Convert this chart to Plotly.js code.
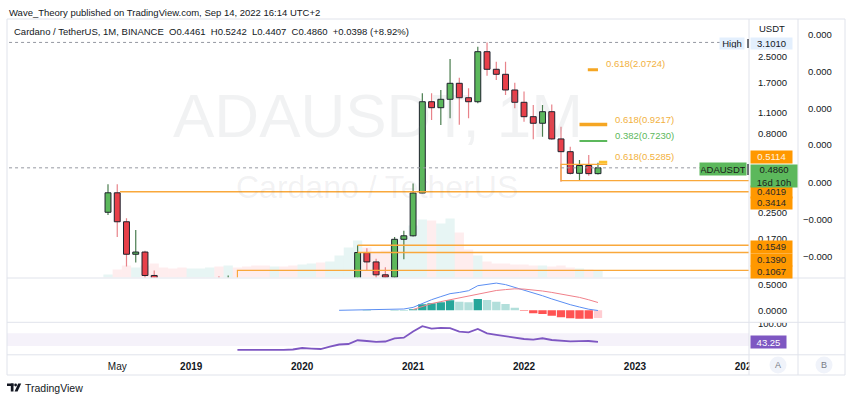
<!DOCTYPE html>
<html>
<head>
<meta charset="utf-8">
<script src="https://cdn.plot.ly/plotly-3.0.1.min.js"></script>
<style>html,body{margin:0;padding:0;background:#fff;}#chart{width:850px;height:399px;}</style>
</head>
<body>
<div id="chart"></div>
<script>
// ---------------- DATA (monthly ADAUSDT, Apr 2018 .. Sep 2022) ----------------
const monthLabels = ['2018-04','2018-05','2018-06','2018-07','2018-08','2018-09','2018-10','2018-11','2018-12',
  '2019-01','2019-02','2019-03','2019-04','2019-05','2019-06','2019-07','2019-08','2019-09','2019-10','2019-11','2019-12',
  '2020-01','2020-02','2020-03','2020-04','2020-05','2020-06','2020-07','2020-08','2020-09','2020-10','2020-11','2020-12',
  '2021-01','2021-02','2021-03','2021-04','2021-05','2021-06','2021-07','2021-08','2021-09','2021-10','2021-11','2021-12',
  '2022-01','2022-02','2022-03','2022-04','2022-05','2022-06','2022-07','2022-08','2022-09'];
const open  = [0.252,0.336,0.219,0.1355,0.140,0.099,0.078,0.072,0.042,0.040,0.041,0.043,0.067,0.062,0.088,0.082,0.058,0.046,0.040,0.042,0.037,0.033,0.055,0.057,0.032,0.050,0.076,0.091,0.1387,0.121,0.100,0.0965,0.169,0.178,0.335,1.291,1.182,1.338,1.695,1.370,1.291,2.704,2.085,1.936,1.536,1.280,1.035,0.939,1.114,0.745,0.617,0.448,0.503,0.4461];
const high  = [0.381,0.381,0.231,0.194,0.1425,0.1066,0.083,0.080,0.052,0.050,0.051,0.071,0.098,0.099,0.094,0.086,0.064,0.059,0.045,0.046,0.040,0.063,0.082,0.060,0.056,0.089,0.095,0.1549,0.148,0.127,0.112,0.175,0.192,0.386,1.462,1.462,1.536,2.43,1.841,1.574,2.91,3.101,2.33,2.33,1.71,1.50,1.23,1.23,1.24,0.893,0.664,0.546,0.587,0.5242];
const low   = [0.242,0.175,0.113,0.120,0.075,0.065,0.068,0.038,0.027,0.039,0.038,0.043,0.061,0.058,0.069,0.052,0.040,0.035,0.032,0.032,0.031,0.033,0.051,0.017,0.028,0.045,0.070,0.0885,0.106,0.076,0.0875,0.088,0.126,0.176,0.334,0.985,0.915,1.011,0.92,1.011,1.262,1.897,1.78,1.426,1.172,0.96,0.741,0.770,0.735,0.396,0.44,0.401,0.433,0.4407];
const close = [0.336,0.219,0.1355,0.140,0.099,0.078,0.072,0.042,0.040,0.041,0.043,0.067,0.062,0.088,0.082,0.058,0.046,0.040,0.042,0.037,0.033,0.055,0.057,0.032,0.050,0.076,0.091,0.1390,0.121,0.100,0.0965,0.169,0.178,0.335,1.291,1.182,1.338,1.695,1.370,1.291,2.704,2.085,1.936,1.536,1.280,1.035,0.939,1.114,0.745,0.617,0.448,0.503,0.4461,0.4860];
const volume = [3,8,12,10,12,14,10,9,10,9,9,10,11,12,10,11,12,12,11,11,12,13,14,15,16,22,30,37,30,26,27,33,40,52,58,57,54,59,45,28,22,16,14,14,13,13,12,12,11,12,10,9,8,7];

const macdStart = 25;
const macdLine = [0.000,0.003,0.006,0.010,0.012,0.014,0.018,0.025,0.056,0.137,0.204,0.263,0.320,0.344,0.377,0.473,0.500,0.523,0.494,0.442,0.388,0.335,0.280,0.219,0.161,0.108,0.063,0.021,-0.004];
const signalStart = 33;
const signalLine = [0.015,0.069,0.129,0.167,0.202,0.238,0.274,0.312,0.350,0.381,0.398,0.413,0.408,0.392,0.371,0.344,0.315,0.283,0.248,0.202,0.150];
const histStart = 26;
const macdHist = [0.002,0.003,0.004,0.003,0.003,0.004,0.006,0.02,0.115,0.135,0.154,0.192,0.165,0.154,0.217,0.198,0.165,0.121,0.050,-0.008,-0.058,-0.071,-0.104,-0.135,-0.154,-0.162,-0.163,-0.148];
const rsiStart = 14;
const rsi = [17.6,17.3,17.2,17.4,17.3,17.5,19.0,23.7,22.0,20.5,27.8,34.7,36.3,48.0,45.7,43.2,44.2,54.3,56.1,75.7,92.3,84.8,87.0,86.0,75.0,73.0,83.9,69.7,65.3,60.5,55.2,52.0,49.8,54.3,48.9,46.4,44.8,45.4,45.7,43.25];

const xTickMonths = [1,9,21,33,45,57,69];
const xTickLabels = ['May','<b>2019</b>','<b>2020</b>','<b>2021</b>','<b>2022</b>','<b>2023</b>','<b>2024</b>'];
const priceTicks = [2.5,1.7,1.1,0.8,0.25,0.17];
const priceTickLabels = ['2.5000','1.7000','1.1000','0.8000','0.2500','0.1700'];

const levelPrices = [0.3414,0.1549,0.1390];
const levelFrom = [1.3,27,27];
const supportLow = 0.1067, supportLowFrom = 14;
const rangeTop = 0.5114, rangeBottom = 0.4019, rangeFrom = 49;
const fibPrices = [2.0724,0.9217,0.7230,0.5285];
const fibNames = ['0.618(2.0724)','0.618(0.9217)','0.382(0.7230)','0.618(0.5285)'];
const fibFrom = [51.9,51,51,53.1];
const fibTo = [53,54,54,54];
const allTimeHigh = 3.1010;
const lastPrice = 0.4860;
const lastRsi = 43.25;
const axisLevels = [0.5114,0.4019,0.3414,0.1549,0.1390,0.1067];
const rightScaleLabels = ['0.000','0.000','0.000','0.000','0.000','\u22120.000','\u22120.000'];

// ---------------- helpers ----------------
const W = 850, H = 399;
const fx = p => p / W;
const fy = p => 1 - p / H;
const FONT = 'Liberation Sans, Arial, sans-serif';
const TXT = '#131722';
const GRID = '#e0e3eb';

const xs = open.map((_, i) => i);
const up = close.map((c, i) => c >= open[i]);
const seriesX = (start, arr) => arr.map((_, i) => start + i);

const GREEN = '#5cb85c', RED = '#e8404a';
const WICK_UP = '#4a7d4f', WICK_DN = '#e8838a';

const traces = [];
// background volume-like area
traces.push({type:'bar', x:xs, y:volume, xaxis:'x', yaxis:'y', width:1,
  marker:{color: up.map(u => u ? 'rgba(38,166,154,0.11)' : 'rgba(242,54,69,0.09)'), line:{width:0}},
  hoverinfo:'skip'});
// wicks
traces.push({type:'bar', x:xs, base:low, y:high.map((h, i) => h - low[i]), xaxis:'x', yaxis:'y2', width:0.13,
  marker:{color: up.map(u => u ? WICK_UP : WICK_DN), line:{width:0}}, hoverinfo:'skip'});
// bodies
traces.push({type:'bar', x:xs, base:open.map((o, i) => Math.min(o, close[i])), y:open.map((o, i) => Math.abs(close[i] - o)),
  xaxis:'x', yaxis:'y2', width:0.64,
  marker:{color: up.map(u => u ? GREEN : RED), line:{color:'#1e222d', width:1}}, hoverinfo:'skip'});

const LEVEL = '#f9a83b';
levelPrices.forEach((p, i) => traces.push({type:'scatter', mode:'lines', x:[levelFrom[i], 90], y:[p, p], xaxis:'x', yaxis:'y2',
  line:{color:LEVEL, width:1.5}, hoverinfo:'skip'}));
traces.push({type:'scatter', mode:'lines', x:[supportLowFrom, supportLowFrom, 90], y:[0.05, supportLow, supportLow], xaxis:'x', yaxis:'y2',
  line:{color:LEVEL, width:1.2}, hoverinfo:'skip'});
traces.push({type:'scatter', mode:'lines', x:[54, rangeFrom, rangeFrom, 90], y:[rangeTop, rangeTop, rangeBottom, rangeBottom], xaxis:'x', yaxis:'y2',
  line:{color:LEVEL, width:1.2}, hoverinfo:'skip'});
// fib levels
const fibColors = ['#f5a623','#f5a623','#5cb85c','#fbc02d'];
const fibWidths = [3,3.5,2,3];
fibPrices.forEach((p, i) => traces.push({type:'scatter', mode:'lines', x:[fibFrom[i], fibTo[i]], y:[p, p], xaxis:'x', yaxis:'y2',
  line:{color:fibColors[i], width:fibWidths[i]}, hoverinfo:'skip'}));
// dotted lines
traces.push({type:'scatter', mode:'lines', x:[-12, 66.3], y:[allTimeHigh, allTimeHigh], xaxis:'x', yaxis:'y2',
  line:{color:'#9598a1', width:1, dash:'dot'}, hoverinfo:'skip'});
traces.push({type:'scatter', mode:'lines', x:[-12, 64.0], y:[lastPrice, lastPrice], xaxis:'x', yaxis:'y2',
  line:{color:'#9598a1', width:1, dash:'dot'}, hoverinfo:'skip'});

// MACD
const histColors = macdHist.map((v, i) => {
  const prev = i > 0 ? macdHist[i - 1] : 0;
  if (v >= 0) return v >= prev ? '#26a69a' : '#b2dfdb';
  return v < prev ? '#ff5252' : '#ffcdd2';
});
traces.push({type:'bar', x:seriesX(histStart, macdHist), y:macdHist, xaxis:'x', yaxis:'y3', width:0.9,
  marker:{color:histColors, line:{width:0}}, hoverinfo:'skip'});
traces.push({type:'scatter', mode:'lines', x:seriesX(macdStart, macdLine), y:macdLine, xaxis:'x', yaxis:'y3',
  line:{color:'#5b8ef2', width:1}, hoverinfo:'skip'});
traces.push({type:'scatter', mode:'lines', x:seriesX(signalStart, signalLine), y:signalLine, xaxis:'x', yaxis:'y3',
  line:{color:'#f0808a', width:1}, hoverinfo:'skip'});
// RSI
traces.push({type:'scatter', mode:'lines', x:seriesX(rsiStart, rsi), y:rsi, xaxis:'x', yaxis:'y4',
  line:{color:'#7e57c2', width:1.8}, hoverinfo:'skip'});

// ---------------- layout ----------------
const tickStyle = {ticks:'outside', ticklen:6, tickcolor:'rgba(0,0,0,0)', tickfont:{family:FONT, size:9.5, color:TXT},
  showgrid:false, zeroline:false, showline:false, fixedrange:true};

const layout = {
  width:W, height:H, margin:{l:0, r:0, t:0, b:0}, paper_bgcolor:'#fff', plot_bgcolor:'rgba(0,0,0,0)',
  showlegend:false, barmode:'overlay', hovermode:false, dragmode:false,
  xaxis:{domain:[fx(7), fx(749)], range:[-10.925, 69.335], anchor:'y4', tickvals:xTickMonths, ticktext:xTickLabels,
    ticks:'outside', ticklen:2, tickcolor:'rgba(0,0,0,0)', tickfont:{family:FONT, size:10, color:TXT},
    showgrid:false, zeroline:false, showline:false, fixedrange:true},
  yaxis:{domain:[fy(277.5), fy(36)], range:[0, 241.5], showticklabels:false, showgrid:false, zeroline:false, showline:false, ticks:'', fixedrange:true},
  yaxis2:Object.assign({type:'log', overlaying:'y', side:'right', anchor:'x', range:[-1.0173, 0.5328],
    tickvals:priceTicks, ticktext:priceTickLabels}, tickStyle),
  yaxis3:Object.assign({domain:[fy(322), fy(278.5)], side:'right', anchor:'x', range:[-0.225, 0.6115],
    tickvals:[0.5, 0], ticktext:['0.5000','0.0000']}, tickStyle),
  yaxis4:Object.assign({domain:[fy(354.5), fy(322.5)], side:'right', anchor:'x', range:[3.23, 104.0],
    tickvals:[100], ticktext:['100.00']}, tickStyle),
};

const hline = (y, x0, x1) => ({type:'line', xref:'paper', yref:'paper', x0:fx(x0), x1:fx(x1), y0:fy(y), y1:fy(y), line:{color:GRID, width:1}});
const vline = (x, y0, y1, c, w) => ({type:'line', xref:'paper', yref:'paper', x0:fx(x), x1:fx(x), y0:fy(y0), y1:fy(y1), line:{color:c || GRID, width:w || 1}});
const rect = (x0, y0, x1, y1, fill, extra) => Object.assign({type:'rect', xref:'paper', yref:'paper', x0:fx(x0), x1:fx(x1), y0:fy(y1), y1:fy(y0), fillcolor:fill, line:{width:0}}, extra || {});

layout.shapes = [
  {type:'rect', xref:'paper', yref:'y4', x0:fx(7), x1:fx(749), y0:30, y1:70, fillcolor:'rgba(126,87,194,0.08)', line:{width:0}, layer:'below'},
  rect(749.5, 355, 844.5, 374.5, '#ffffff'),
  rect(749.5, 316, 797.5, 322.6, '#ffffff'),
  hline(278, 7, 845), hline(322.3, 7, 845), hline(354.8, 7, 845),
  vline(749, 19, 375), vline(798, 19, 375),
  {type:'rect', xref:'paper', yref:'paper', x0:fx(7), x1:fx(845), y0:fy(375), y1:fy(19), line:{color:GRID, width:1}, fillcolor:'rgba(0,0,0,0)'},
  {type:'circle', xref:'paper', yref:'paper', x0:fx(769.5), x1:fx(786.5), y0:fy(373.5), y1:fy(356.5), fillcolor:'#f0f3fa', line:{width:0}},
  {type:'circle', xref:'paper', yref:'paper', x0:fx(815.5), x1:fx(832.5), y0:fy(373.5), y1:fy(356.5), fillcolor:'#f0f3fa', line:{width:0}},
  vline(748, 39, 48, '#131722', 1.2), vline(748, 164, 175, '#131722', 1.2),
  // TradingView logo
  rect(7, 383.5, 13.5, 386, '#131722'),
  rect(10.8, 383.5, 13.5, 391.5, '#131722'),
  {type:'circle', xref:'paper', yref:'paper', x0:fx(14.2), x1:fx(17), y0:fy(386.4), y1:fy(383.6), fillcolor:'#131722', line:{width:0}},
  {type:'path', xref:'paper', yref:'paper', fillcolor:'#131722', line:{width:0},
    path:`M ${fx(18.2)} ${fy(383.5)} L ${fx(21.2)} ${fy(383.5)} L ${fx(17.6)} ${fy(391.5)} L ${fx(14.6)} ${fy(391.5)} Z`},
];

const ann = (x, y, text, o) => Object.assign({xref:'paper', yref:'paper', x:fx(x), y:fy(y), text, showarrow:false,
  xanchor:'left', yanchor:'middle', font:{family:FONT, size:9.5, color:TXT}}, o || {});

const annotations = [
  ann(7, 12, 'Wave_Theory published on TradingView.com, Sep 14, 2022 16:14 UTC+2', {font:{family:FONT, size:9.5, color:TXT}}),
  ann(12, 31, 'Cardano / TetherUS, 1M, BINANCE\u00a0\u00a0O0.4461\u00a0\u00a0H0.5242\u00a0\u00a0L0.4407\u00a0\u00a0C0.4860\u00a0\u00a0+0.0398 (+8.92%)', {font:{family:FONT, size:9.5, color:TXT}}),
  ann(378, 115, 'ADAUSDT, 1M', {xanchor:'center', font:{family:FONT, size:62, color:'rgba(120,123,134,0.10)'}}),
  ann(377, 187, 'Cardano / TetherUS', {xanchor:'center', font:{family:FONT, size:32, color:'rgba(120,123,134,0.10)'}}),
  ann(757, 29, 'USDT'),
  ann(23, 387.5, 'TradingView', {font:{family:FONT, size:10.5, color:TXT}}),
  ann(778, 365, 'A', {xanchor:'center', font:{family:FONT, size:9, color:'#787b86'}}),
  ann(824, 365, 'B', {xanchor:'center', font:{family:FONT, size:9, color:'#787b86'}}),
];
const rightScaleY = [34, 71, 108, 145, 182.5, 219.5, 256.5];
rightScaleLabels.forEach((t, i) => annotations.push(ann(t.length > 5 ? 801 : 806, rightScaleY[i], t)));

// fib labels
const fibLabelX = [53.65, 54.62, 54.62, 54.62];
const fibLabelShift = [6.7, 5.5, 5, 5.5];
const fibTextColors = ['#f2b13e','#f2b13e','#5cb85c','#f2b13e'];
fibNames.forEach((t, i) => annotations.push({xref:'x', yref:'y2', x:fibLabelX[i], y:Math.log10(fibPrices[i]), yshift:fibLabelShift[i],
  text:t, showarrow:false, xanchor:'left', yanchor:'middle', font:{family:FONT, size:9.5, color:fibTextColors[i]}}));

// price boxes on the axis
const axisLevelShift = [7.2, -11.3, -11.6, -1.8, -7, -1.6];
axisLevels.forEach((p, i) => annotations.push({xref:'paper', x:fx(749.5), xanchor:'left', yref:'y2', y:Math.log10(p), yanchor:'middle',
  yshift:axisLevelShift[i], text:p.toFixed(4), showarrow:false, bgcolor:'#ff9800', width:39, height:9.5, borderpad:1,
  font:{family:FONT, size:9.5, color: i === 0 ? '#fff3e0' : '#2a2a2a'}}));
annotations.push({xref:'paper', x:fx(749.5), xanchor:'left', yref:'y2', y:Math.log10(lastPrice), yanchor:'top', yshift:3.8,
  text:lastPrice.toFixed(4) + '<br>16d 10h', showarrow:false, bgcolor:GREEN, width:44, height:20, borderpad:1,
  font:{family:FONT, size:9.5, color:'#1a1a1a'}});
annotations.push({xref:'paper', x:fx(746.5), xanchor:'right', yref:'y2', y:Math.log10(lastPrice), yanchor:'middle', yshift:-1.5,
  text:'ADAUSDT', showarrow:false, bgcolor:GREEN, width:44, height:10, borderpad:1, font:{family:FONT, size:9.5, color:'#1a1a1a'}});
annotations.push({xref:'paper', x:fx(745), xanchor:'right', yref:'y2', y:Math.log10(allTimeHigh), yanchor:'middle', yshift:-1.4,
  text:'High', showarrow:false, bgcolor:'#e3effd', width:22, height:9, borderpad:1, font:{family:FONT, size:9.5, color:TXT}});
annotations.push({xref:'paper', x:fx(749.5), xanchor:'left', yref:'y2', y:Math.log10(allTimeHigh), yanchor:'middle', yshift:-1.4,
  text:allTimeHigh.toFixed(4), showarrow:false, bgcolor:'#e3effd', width:39, height:9, borderpad:1, font:{family:FONT, size:9.5, color:TXT}});
annotations.push({xref:'paper', x:fx(749.5), xanchor:'left', yref:'y4', y:lastRsi, yanchor:'middle',
  text:lastRsi.toFixed(2), showarrow:false, bgcolor:'#7e57c2', width:33, height:10, borderpad:1, font:{family:FONT, size:9.5, color:'#ffffff'}});

layout.annotations = annotations;

Plotly.newPlot('chart', traces, layout, {staticPlot:true, displayModeBar:false});
</script>
</body>
</html>
